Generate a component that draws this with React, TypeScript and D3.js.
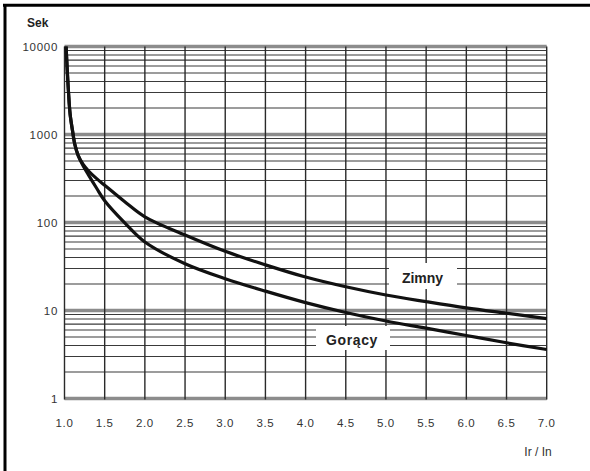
import React from "react";
import * as d3 from "d3";

const xTicks = [1.0, 1.5, 2.0, 2.5, 3.0, 3.5, 4.0, 4.5, 5.0, 5.5, 6.0, 6.5, 7.0];
const xTickLabels = ["1.0", "1.5", "2.0", "2.5", "3.0", "3.5", "4.0", "4.5", "5.0", "5.5", "6.0", "6.5", "7.0"];
const yTicks = [1, 10, 100, 1000, 10000];
const yTickLabels = ["1", "10", "100", "1000", "10000"];

const zimnyX = [1.02, 1.035, 1.05, 1.07, 1.1, 1.13, 1.17, 1.23, 1.3, 1.4, 1.5, 1.75, 2.0, 2.5, 3.0, 3.5, 4.0, 4.5, 5.0, 5.5, 6.0, 6.5, 7.0];
const zimnyY = [10000, 5200, 3000, 1700, 1100, 760, 580, 460, 385, 315, 265, 172, 116, 72, 47, 33, 24, 18.6, 15, 12.6, 10.7, 9.3, 8.1];
const goracyX = [1.02, 1.035, 1.05, 1.07, 1.1, 1.13, 1.17, 1.23, 1.3, 1.4, 1.5, 1.75, 2.0, 2.5, 3.0, 3.5, 4.0, 4.5, 5.0, 5.5, 6.0, 6.5, 7.0];
const goracyY = [10000, 5200, 3000, 1700, 1100, 760, 575, 445, 345, 245, 177, 99, 60, 34, 23, 16.6, 12.3, 9.5, 7.6, 6.3, 5.2, 4.3, 3.6];

const xLabel = "Ir / In";
const yLabel = "Sek";
const zimnyLabel = "Zimny";
const goracyLabel = "Gorący";

export default function App() {
  const W = 590, H = 471;
  const x = d3.scaleLinear().domain([1, 7]).range([64.5, 546.7]);
  const y = d3.scaleLog().domain([1, 10000]).range([398.5, 46.5]);

  const minor: number[] = [];
  for (let d = 1; d < 10000; d *= 10) {
    for (let k = 2; k <= 9; k++) minor.push(d * k);
  }

  const line = d3
    .line<[number, number]>()
    .x((d) => x(d[0]))
    .y((d) => y(d[1]))
    .curve(d3.curveCatmullRom.alpha(0.5));

  const zimny = line(zimnyX.map((v, i) => [v, zimnyY[i]] as [number, number]));
  const goracy = line(goracyX.map((v, i) => [v, goracyY[i]] as [number, number]));

  const font = "'Liberation Sans', Arial, sans-serif";

  return (
    <svg width={W} height={H} style={{ position: "absolute", left: 0, top: 0, background: "#fff" }}>
      <rect x={0} y={0} width={W} height={H} fill="#fff" />
      {minor.map((v) => (
        <line key={"m" + v} x1={x(1)} x2={x(7)} y1={y(v)} y2={y(v)} stroke="#3a3a3a" strokeWidth={1.1} />
      ))}
      {yTicks.map((v) => (
        <line key={"d" + v} x1={x(1)} x2={x(7)} y1={y(v)} y2={y(v)} stroke="#8c8c8c" strokeWidth={3.5} />
      ))}
      {xTicks.map((v) => (
        <line key={"v" + v} x1={x(v)} x2={x(v)} y1={y(10000)} y2={y(1) + 1} stroke="#2a2a2a" strokeWidth={1.4} />
      ))}
      <rect x={389} y={263} width={68} height={26} fill="#fff" />
      <rect x={316} y={326} width={74} height={24} fill="#fff" />
      <path d={zimny || ""} fill="none" stroke="#111" strokeWidth={3.2} />
      <path d={goracy || ""} fill="none" stroke="#111" strokeWidth={3.2} />
      <text x={422.5} y={283} textAnchor="middle" fontFamily={font} fontWeight="bold" fontSize={14} fill="#222">
        {zimnyLabel}
      </text>
      <text x={352} y={345} textAnchor="middle" fontFamily={font} fontWeight="bold" fontSize={14} letterSpacing={0.6} fill="#222">
        {goracyLabel}
      </text>
      {yTicks.map((v, i) => (
        <text key={"yt" + v} x={58} y={y(v) + 4} textAnchor="end" fontFamily={font} fontSize={11.5} letterSpacing={0.7} fill="#333">
          {yTickLabels[i]}
        </text>
      ))}
      {xTicks.map((v, i) => (
        <text key={"xt" + v} x={x(v)} y={427} textAnchor="middle" fontFamily={font} fontSize={11.5} letterSpacing={0.6} fill="#333">
          {xTickLabels[i]}
        </text>
      ))}
      <text x={27} y={27} fontFamily={font} fontWeight="bold" fontSize={12} fill="#222">
        {yLabel}
      </text>
      <text x={538} y={456} textAnchor="middle" fontFamily={font} fontSize={12} fill="#333">
        {xLabel}
      </text>
      <line x1={3} x2={W} y1={5.3} y2={5.3} stroke="#000" strokeWidth={3} />
      <line x1={5} x2={5} y1={4} y2={H} stroke="#000" strokeWidth={3} />
    </svg>
  );
}
